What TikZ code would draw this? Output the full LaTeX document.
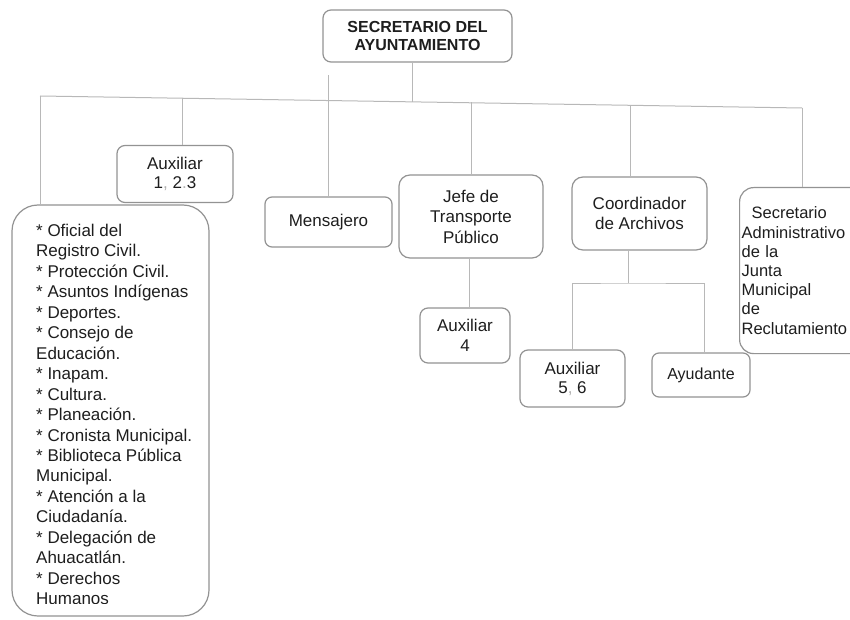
\documentclass[tikz,border=0pt]{standalone}
\usepackage{fontspec}
\setmainfont{Liberation Sans}
\definecolor{boxline}{HTML}{939393}
\definecolor{wire}{HTML}{B8B8B8}
\definecolor{ink}{HTML}{1E1E1E}
\definecolor{faint}{HTML}{B0B0B0}
\begin{document}
\begin{tikzpicture}[x=1pt,y=-1pt,
  orgbox/.style={draw=boxline, line width=1.2pt, fill=white, text=ink,
    align=center, inner sep=0pt, rounded corners=8pt,
    font=\fontsize{17}{19.5}\selectfont},
  headbox/.style={orgbox, font=\bfseries\fontsize{16}{18.3}\selectfont},
  wire/.style={draw=wire, line width=1pt}]
\useasboundingbox (0,0) rectangle (850,620);
\clip (0,0) rectangle (850,620);

% head of the chart
\node[headbox, minimum width=189pt, minimum height=52pt] (top) at (417.5,36)
  {SECRETARIO DEL\\AYUNTAMIENTO};

% first level
\node[orgbox, minimum width=116pt, minimum height=57pt] (aux123) at (175,174)
  {Auxiliar\\1{\color{faint},} 2{\color{faint}.}3};
\node[orgbox, minimum width=127pt, minimum height=50pt, rounded corners=7pt] (mens) at (328.5,222)
  {Mensajero};
\node[orgbox, minimum width=144pt, minimum height=83pt, rounded corners=11pt,
  font=\fontsize{17}{20.5}\selectfont] (jefe) at (471,216.5)
  {Jefe de\\Transporte\\Público};
\node[orgbox, minimum width=135pt, minimum height=73pt, rounded corners=11pt] (coord) at (639.5,213.5)
  {Coordinador\\de Archivos};
\node[orgbox, anchor=north west, minimum width=150pt, minimum height=166pt,
  rounded corners=14pt, align=left, text width=146pt, inner xsep=1pt,
  font=\fontsize{16.5}{19.2}\selectfont] (secadm) at (739,187)
  {\hspace*{10pt}Secretario\\Administrativo\\de la\\Junta\\Municipal\\de\\Reclutamiento};

% list of areas under the secretary
\node[draw=boxline, line width=1.2pt, fill=white, rounded corners=26pt,
  minimum width=197pt, minimum height=411pt, inner sep=0pt] (big) at (110.5,410.5) {};
\begin{scope}
  \clip (0,0) rectangle (850,603);
  \node[anchor=north west, inner sep=0pt, align=left, text=ink,
    font=\fontsize{17}{20.45}\selectfont] (areas) at (36,224)
    {* Oficial del\\Registro Civil.\\* Protección Civil.\\* Asuntos Indígenas\\
     * Deportes.\\* Consejo de\\Educación.\\* Inapam.\\* Cultura.\\* Planeación.\\
     * Cronista Municipal.\\* Biblioteca Pública\\Municipal.\\* Atención a la\\
     Ciudadanía.\\* Delegación de\\Ahuacatlán.\\* Derechos\\Humanos};
\end{scope}

% second level
\node[orgbox, minimum width=90pt, minimum height=55pt] (aux4) at (465,335.5)
  {Auxiliar\\4};
\node[orgbox, minimum width=105pt, minimum height=57pt, font=\fontsize{17}{19}\selectfont] (aux56) at (572.5,378.5)
  {Auxiliar\\5{\color{faint},} 6};
\node[orgbox, minimum width=98pt, minimum height=44pt, rounded corners=7pt,
  font=\fontsize{16}{19}\selectfont] (ayud) at (701,375)
  {Ayudante};

% main bus and its taps
\coordinate (busL) at (40,96);
\coordinate (tapB) at (182,98.2);
\coordinate (tapT) at (412,101.9);
\coordinate (tapE) at (630,105.3);
\coordinate (busR) at (802,108);
\draw[wire] (busL) -- (busR);
\draw[wire] (top.south -| tapT) -- (tapT);
\draw[wire] (busL) -- (busL |- big.north);
\draw[wire] (tapB) -- (tapB |- aux123.north);
\draw[wire] (mens.north) -- ++(0,-121.5);
\draw[wire] (jefe.north) -- ++(0,-72);
\draw[wire] (tapE) -- (tapE |- coord.north);
\draw[wire] (busR) -- (busR |- secadm.north);

% branches below the first level
\draw[wire] (jefe.south -| aux4.north) ++(4,0) coordinate (jfoot) -- (jfoot |- aux4.north);
\coordinate (split) at (628,283);
\draw[wire] (coord.south -| split) -- (split);
\draw[wire] (aux56.north) |- (split) -| ([xshift=3pt]ayud.north);
\end{tikzpicture}
\end{document}
